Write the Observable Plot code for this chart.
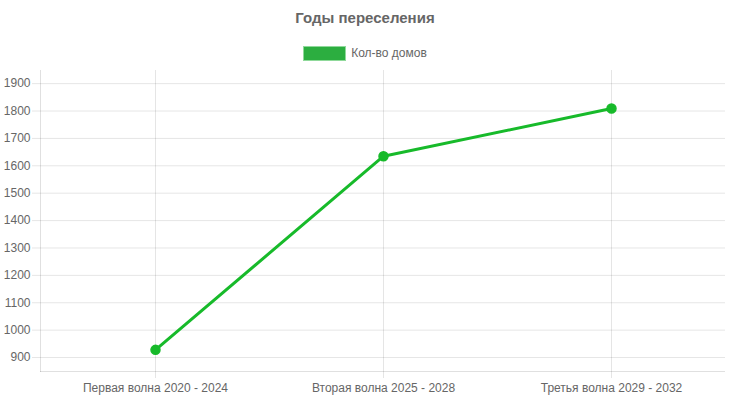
<!DOCTYPE html>
<html>
<head>
<meta charset="utf-8">
<script src="https://cdn.jsdelivr.net/npm/d3@7"></script>
<script src="https://cdn.jsdelivr.net/npm/@observablehq/plot@0.6"></script>
<style>
  body { margin: 0; background: #fff; font-family: "Liberation Sans", Arial, sans-serif; }
  #wrap { width: 730px; }
  #title { height: 36px; line-height: 36px; text-align: center; font-weight: bold; font-size: 15px; color: #666; }
  #legend { height: 26px; display: flex; justify-content: center; align-items: flex-start; padding-top: 0; font-size: 12px; color: #666; }
  #legend .box { width: 41px; height: 13px; background: #2cae40; border: 1px solid #8fd99a; margin-top: 10px; margin-right: 5px; }
  #legend .lbl { margin-top: 10px; line-height: 15px; }
  svg { display: block; }
</style>
</head>
<body>
<div id="wrap">
  <div id="title"></div>
  <div id="legend"><div class="box"></div><div class="lbl"></div></div>
  <div id="chart"></div>
</div>
<script>
const titleText = "Годы переселения";
const seriesLabel = "Кол-во домов";
const waves = ["Первая волна 2020 - 2024", "Вторая волна 2025 - 2028", "Третья волна 2029 - 2032"];
const counts = [928, 1635, 1809];
const yTicks = [900, 1000, 1100, 1200, 1300, 1400, 1500, 1600, 1700, 1800, 1900];
const yDomain = [849, 1948];

document.getElementById("title").textContent = titleText;
document.querySelector("#legend .lbl").textContent = seriesLabel;

const data = waves.map((w, i) => ({wave: w, count: counts[i]}));
const gridColor = "#000";

const chart = Plot.plot({
  width: 730,
  height: 338,
  marginTop: 8,
  marginBottom: 29,
  marginLeft: 40,
  marginRight: 5,
  style: {fontFamily: "'Liberation Sans', Arial, sans-serif", fontSize: "12px", color: "#666", background: "#fff"},
  x: {type: "point", domain: waves, padding: 0.5, label: null},
  y: {domain: yDomain, label: null},
  marks: [
    Plot.gridY(yTicks, {stroke: gridColor, strokeOpacity: 0.1}),
    Plot.gridX(waves, {stroke: gridColor, strokeOpacity: 0.1}),
    Plot.axisY(yTicks, {tickSize: 8, tickPadding: 2, tickFormat: d => String(d), stroke: gridColor, strokeOpacity: 0.1, fill: "#666", label: null}),
    Plot.axisX(waves, {tickSize: 7, tickPadding: 5, stroke: gridColor, strokeOpacity: 0.1, fill: "#666", label: null}),
    Plot.ruleY([yDomain[0]], {stroke: gridColor, strokeOpacity: 0.12}),
    Plot.frame({anchor: "left", stroke: gridColor, strokeOpacity: 0.12}),
    Plot.line(data, {x: "wave", y: "count", stroke: "#17ba2a", strokeWidth: 3}),
    Plot.dot(data, {x: "wave", y: "count", r: 4.5, fill: "#17ba2a", stroke: "#17ba2a"})
  ]
});
document.getElementById("chart").appendChild(chart);
</script>
</body>
</html>
